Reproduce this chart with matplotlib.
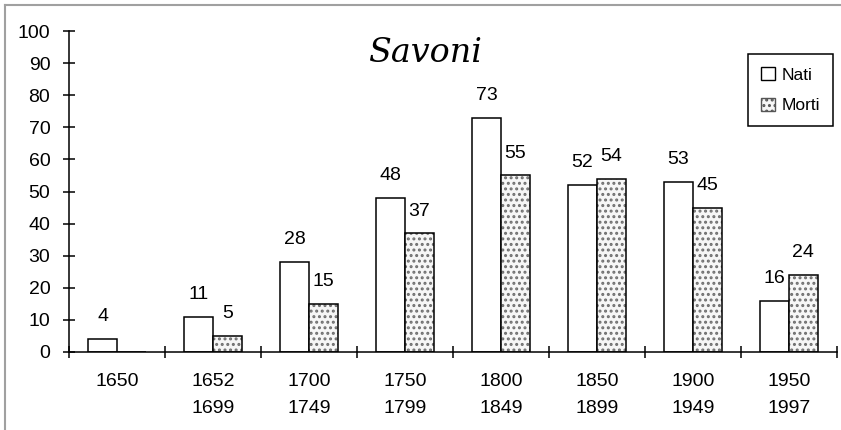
import numpy as np
import matplotlib.pyplot as plt
from matplotlib.lines import Line2D
from matplotlib.patches import Patch

plt.rcParams['font.family'] = ['Liberation Sans', 'DejaVu Sans']
plt.rcParams['hatch.linewidth'] = 1.4

periodi = ["1650", "1652\n1699", "1700\n1749", "1750\n1799",
           "1800\n1849", "1850\n1899", "1900\n1949", "1950\n1997"]
nati = [4, 11, 28, 48, 73, 52, 53, 16]
morti = [np.nan, 5, 15, 37, 55, 54, 45, 24]

W, H = 841, 430
fig = plt.figure(figsize=(W / 100, H / 100), dpi=100)
ax = fig.add_axes([69 / W, 1 - 352 / H, 768 / W, 321 / H])

x = np.arange(len(periodi))
bw = 0.3

# Nati: plain white bars
ax.bar(x - bw / 2, nati, bw, color='white', edgecolor='black', linewidth=1.1, zorder=2)
# Morti: dotted fill drawn first, black outline on top
m = np.nan_to_num(morti)
ax.bar(x + bw / 2, m, bw, color='#f6f6f6', edgecolor='#6e6e6e', hatch='...',
       linewidth=0, zorder=2)
ax.bar(x + bw / 2, m, bw, color='none', edgecolor='black', linewidth=1.1, zorder=3)

for i in range(len(x)):
    ax.annotate(str(nati[i]), (x[i] - bw / 2, nati[i]), xytext=(0, 16),
                textcoords='offset points', ha='center', va='center', fontsize=14)
    if not np.isnan(morti[i]):
        ax.annotate(str(int(morti[i])), (x[i] + bw / 2, morti[i]), xytext=(0, 16),
                    textcoords='offset points', ha='center', va='center', fontsize=14)

ax.set_xlim(-0.5, len(x) - 0.5)
ax.set_ylim(0, 100)
ax.set_yticks(range(0, 101, 10))
ax.set_xticks(np.arange(-0.5, len(x)), labels=[])
ax.tick_params(axis='both', direction='inout', length=9, width=1.1, labelsize=14)
ax.tick_params(axis='y', pad=9)

# two-line period labels under each group
for i, lab in enumerate(periodi):
    ax.annotate(lab, (x[i], 0), xycoords=('data', 'axes fraction'),
                xytext=(0, -15), textcoords='offset points', ha='center', va='top',
                fontsize=14, linespacing=1.8)

for s in ['top', 'right']:
    ax.spines[s].set_visible(False)
for s in ['left', 'bottom']:
    ax.spines[s].set_linewidth(1.1)

ax.text(0.4635, 0.93, "Savoni", transform=ax.transAxes, ha='center', va='center',
        fontsize=24, style='italic', family='DejaVu Serif')

handles = [Patch(facecolor='white', edgecolor='black', linewidth=1.0),
           Patch(facecolor='#f6f6f6', edgecolor='#555555', hatch='...', linewidth=1.0)]
leg = ax.legend(handles, ['Nati', 'Morti'], loc='upper right',
                bbox_to_anchor=(0.995, 0.928), fontsize=12.5,
                handlelength=0.8, handleheight=0.8, handletextpad=0.4,
                labelspacing=0.85, borderpad=0.75, borderaxespad=0,
                fancybox=False, framealpha=1, edgecolor='black')
leg.get_frame().set_linewidth(1.1)

# chart area border, only left and top edges fall inside the image
gray = '#a0a0a0'
fig.add_artist(Line2D([5 / W, 5 / W], [0, 1 - 5 / H], color=gray, lw=1.5,
                      transform=fig.transFigure))
fig.add_artist(Line2D([5 / W, 1], [1 - 5 / H, 1 - 5 / H], color=gray, lw=1.5,
                      transform=fig.transFigure))

fig.savefig('out.png', dpi=100)
